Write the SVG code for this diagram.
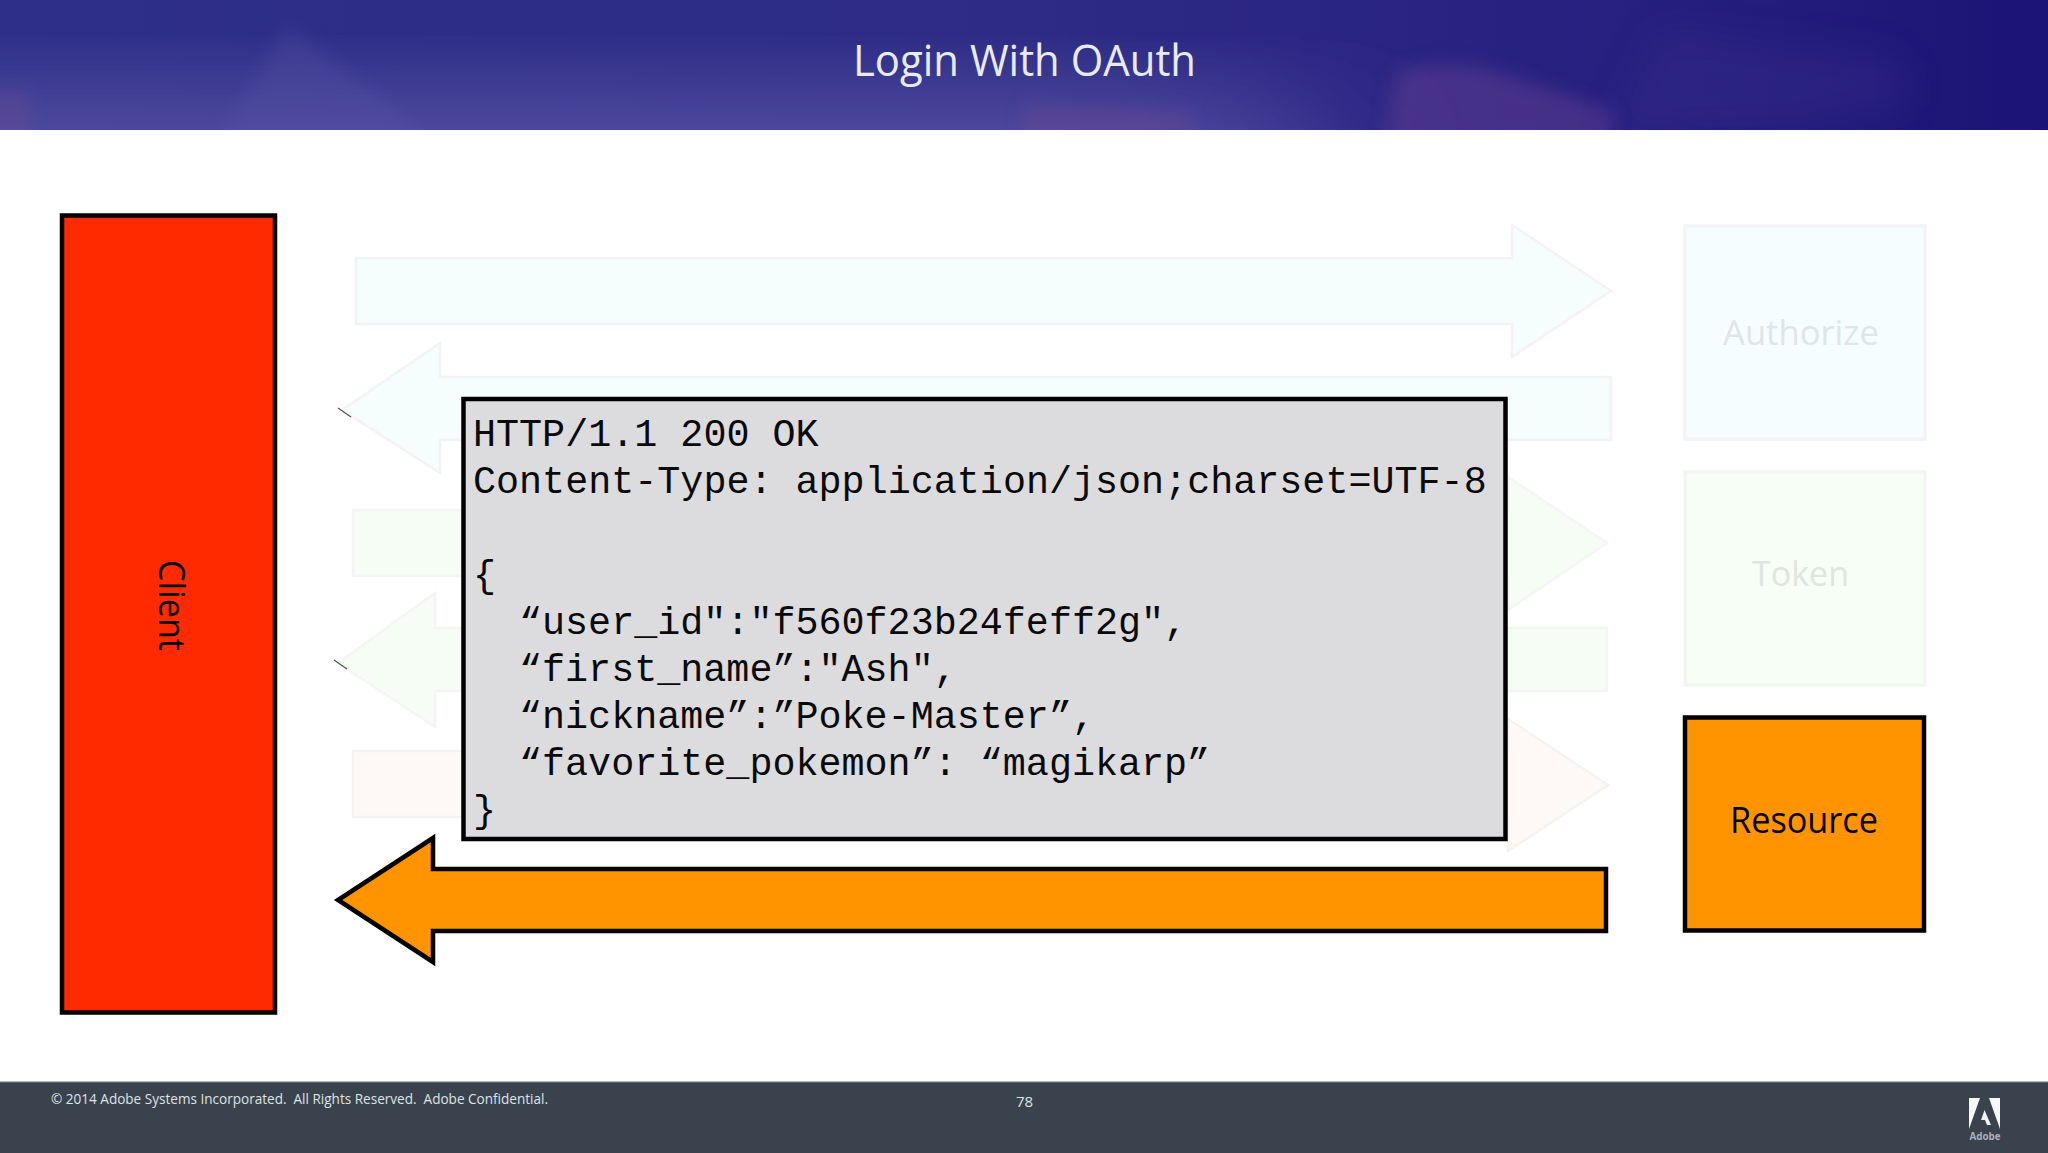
<svg xmlns="http://www.w3.org/2000/svg" width="2048" height="1153" viewBox="0 0 2048 1153">
<style>
text{font-family:"Open Sans","Noto Sans","Liberation Sans",sans-serif}
.mono{font-family:"Liberation Mono","Courier New",monospace;font-size:38.4px;fill:#0a0a0a}
.lbl{font-size:36px;fill:#050505}
.ghost{font-size:35px}
.faint{stroke-width:2.5}
.fb{fill:#f5fdfd;stroke:#f3f3f6}
.fg{fill:#f5fdf5;stroke:#f4f5f4}
.fp{fill:#fef9f6;stroke:#f5f3f2}
.solid{stroke:#000;stroke-width:4.5}
.tick{stroke:#555;stroke-width:1.2;fill:none}
</style>
<defs>
<linearGradient id="bannerG" x1="0" y1="0" x2="1" y2="0">
<stop offset="0" stop-color="#2e2f88"/><stop offset="0.5" stop-color="#2d2b85"/><stop offset="0.8" stop-color="#262080"/><stop offset="1" stop-color="#1b1476"/>
</linearGradient>
<linearGradient id="bannerV" x1="0" y1="0" x2="0" y2="1">
<stop offset="0.25" stop-color="#5f5bab" stop-opacity="0"/><stop offset="1" stop-color="#5f5bab" stop-opacity="0.6"/>
</linearGradient>
<filter id="hfade" x="-20%" y="0" width="140%" height="100%"><feGaussianBlur stdDeviation="90 0"/></filter>
<filter id="b6" x="-30%" y="-30%" width="160%" height="160%"><feGaussianBlur stdDeviation="9"/></filter>
<filter id="b14" x="-30%" y="-30%" width="160%" height="160%"><feGaussianBlur stdDeviation="18"/></filter>
<clipPath id="bannerClip"><rect x="0" y="0" width="2048" height="130"/></clipPath>
</defs>
<rect id="page" width="2048" height="1153" fill="#ffffff"/>

<g id="banner">
<rect x="0" y="0" width="2048" height="130" fill="url(#bannerG)"/>
<g clip-path="url(#bannerClip)">
<rect x="-400" y="0" width="1700" height="130" fill="url(#bannerV)" filter="url(#hfade)"/>
<polygon points="288,25 215,145 440,145" fill="#5c58a8" opacity="0.28" filter="url(#b6)"/>
<rect x="-30" y="90" width="60" height="70" fill="#6a4a92" opacity="0.4" filter="url(#b6)"/>
<polygon points="1024,104 1190,112 1195,145 1024,145" fill="#6a4690" opacity="0.45" filter="url(#b6)"/>
<path d="M1395,75 Q1430,55 1490,70 L1612,110 L1615,145 L1385,145 Z" fill="#5e3e8f" opacity="0.55" filter="url(#b6)"/>
<path d="M1610,130 L1660,30 L1900,60 L1905,105 L1780,130 Z" fill="#342a88" opacity="0.45" filter="url(#b14)"/>
</g>
<text x="1024.5" y="75.5" font-size="43" fill="#e8ebf6" text-anchor="middle" textLength="343" lengthAdjust="spacingAndGlyphs">Login With OAuth</text>
</g>

<g id="connectors">
<polygon id="arrow-authorize-request" class="faint fb" points="356,258 1512,258 1512,225 1611,291 1512,357 1512,324 356,324"/>
<polygon id="arrow-authorize-response" class="faint fb" points="1611,377 440,377 440,343 342,410 440,473 440,440 1611,440"/>
<line class="tick" x1="338" y1="408" x2="351" y2="417"/>
<polygon id="arrow-token-request" class="faint fg" points="353,510 1508,510 1508,477 1607,543 1508,610 1508,576 353,576"/>
<polygon id="arrow-token-response" class="faint fg" points="1607,628 435,628 435,593 338,663 435,727 435,691 1607,691"/>
<line class="tick" x1="334" y1="660" x2="347" y2="669"/>
<polygon id="arrow-resource-request" class="faint fp" points="353,751 1508,751 1508,719 1608,785 1508,851 1508,817 353,817"/>
<polygon id="arrow-resource-response" class="solid" fill="#ff9400" points="1606,869 433,869 433,838 338,900 433,962 433,931 1606,931"/>
</g>

<g id="node-client">
<rect x="62" y="215.5" width="213" height="797" fill="#ff2a00" class="solid"/>
<text class="lbl" transform="translate(158.5 560) rotate(90)" textLength="91" lengthAdjust="spacingAndGlyphs">Client</text>
</g>

<g id="node-authorize">
<rect x="1685" y="226" width="240" height="213" fill="#f5fdff" stroke="#f3f4f6" stroke-width="3.5"/>
<text class="ghost" fill="#dfe6e7" x="1723" y="345" textLength="156" lengthAdjust="spacingAndGlyphs">Authorize</text>
</g>

<g id="node-token">
<rect x="1685" y="472" width="240" height="213" fill="#f6fef6" stroke="#f3f5f3" stroke-width="3.5"/>
<text class="ghost" fill="#dfe5df" x="1752" y="586" textLength="97" lengthAdjust="spacingAndGlyphs">Token</text>
</g>

<g id="node-resource">
<rect x="1685" y="717.5" width="239" height="213" fill="#ff9400" class="solid"/>
<text class="lbl" x="1730" y="833" textLength="148" lengthAdjust="spacingAndGlyphs">Resource</text>
</g>

<g id="node-response">
<rect x="463.5" y="399" width="1042" height="440" fill="#dcdcde" class="solid"/>
<text class="mono" x="473" y="446">HTTP/1.1 200 OK</text>
<text class="mono" x="473" y="493">Content-Type: application/json;charset=UTF-8</text>
<text class="mono" x="473" y="587">{</text>
<text class="mono" x="519" y="634">“user_id":"f560f23b24feff2g",</text>
<text class="mono" x="519" y="681">“first_name”:"Ash",</text>
<text class="mono" x="519" y="728">“nickname”:”Poke-Master”,</text>
<text class="mono" x="519" y="775">“favorite_pokemon”: “magikarp”</text>
<text class="mono" x="473" y="822">}</text>
</g>

<g id="footer">
<rect x="0" y="1082" width="2048" height="71" fill="#39424d"/>
<rect x="0" y="1081.5" width="2048" height="1.2" fill="#69747f"/>
<text x="51" y="1104" font-size="14.5" fill="#dfe2e5" xml:space="preserve" textLength="497" lengthAdjust="spacingAndGlyphs">© 2014 Adobe Systems Incorporated.  All Rights Reserved.  Adobe Confidential.</text>
<text x="1024.5" y="1107" font-size="15" fill="#dfe2e5" text-anchor="middle">78</text>
<g id="logo">
<polygon points="1969,1098 1980,1098 1969,1129" fill="#f6f7f9"/>
<polygon points="1989,1098 2000,1098 2000,1129" fill="#f6f7f9"/>
<polygon points="1984.5,1110 1991,1125 1987,1125 1985,1120 1981,1120" fill="#f0f2f5"/>
<text x="1985" y="1140" font-size="11" font-weight="700" fill="#aab1ba" text-anchor="middle" textLength="31" lengthAdjust="spacingAndGlyphs">Adobe</text>
</g>
</g>
</svg>
